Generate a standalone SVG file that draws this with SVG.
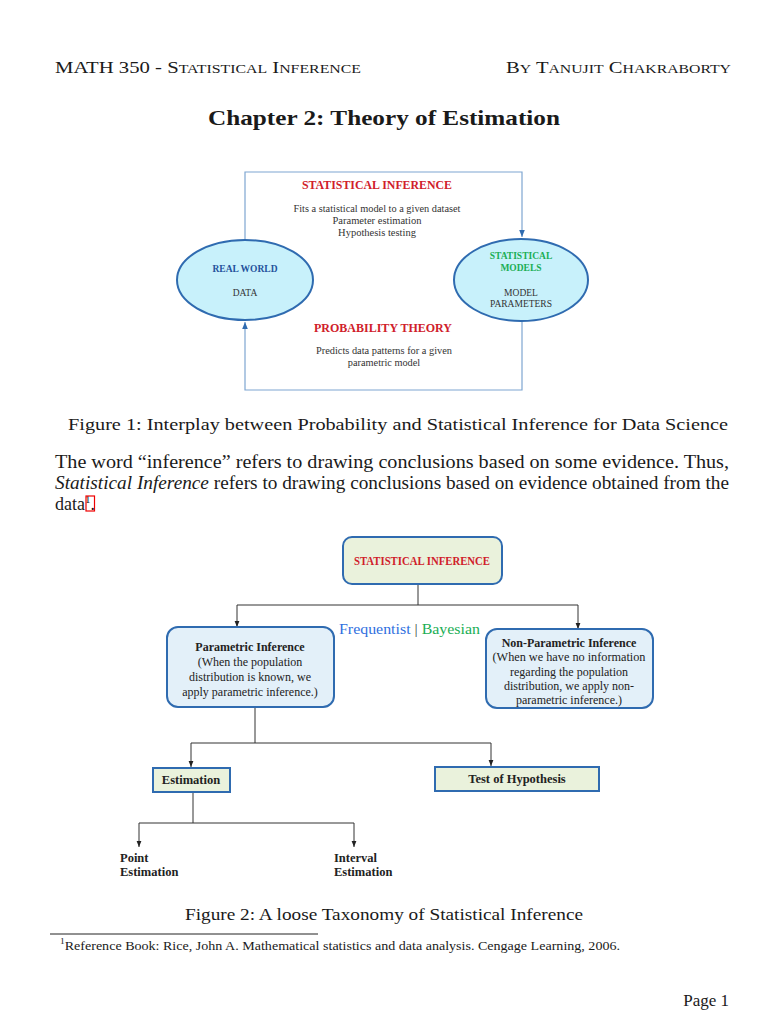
<svg xmlns="http://www.w3.org/2000/svg" width="768" height="1024" viewBox="0 0 768 1024">
<defs>
<style>
.pg{font-family:"Liberation Serif","DejaVu Serif",serif;fill:#1a1a1a}
.fg{font-family:"Liberation Serif","DejaVu Serif",serif}
.b{font-weight:bold}
.red{fill:#d0202a}
.frame{fill:none;stroke:#7ea6d1;stroke-width:1.2}
.ell{fill:#c8f1fb;stroke:#2f6bb0;stroke-width:2}
.conn{fill:none;stroke:#333;stroke-width:1}
.boxg{fill:#eaf2dc;stroke:#2f6bb0;stroke-width:2}
.boxb{fill:#e3f0f9;stroke:#2f6bb0;stroke-width:2}
</style>
<marker id="ab" viewBox="0 0 10 10" refX="10" refY="5" markerWidth="6" markerHeight="6" orient="auto"><path d="M0,1 L10,5 L0,9 z" fill="#2f6bb0"/></marker>
<marker id="ak" viewBox="0 0 10 10" refX="10" refY="5" markerWidth="6" markerHeight="6" orient="auto"><path d="M0,1 L10,5 L0,9 z" fill="#222"/></marker>
</defs>
<rect width="768" height="1024" fill="#fff"/>

<!-- page text -->
<text class="pg" x="55" y="73" font-size="17" textLength="306" lengthAdjust="spacingAndGlyphs">MATH 350 - S<tspan font-size="13">TATISTICAL</tspan> I<tspan font-size="13">NFERENCE</tspan></text>
<text class="pg" x="731" y="73" font-size="17" text-anchor="end" textLength="225" lengthAdjust="spacingAndGlyphs">B<tspan font-size="13">Y</tspan> T<tspan font-size="13">ANUJIT</tspan> C<tspan font-size="13">HAKRABORTY</tspan></text>
<text class="pg b" x="384" y="125" font-size="21" text-anchor="middle" textLength="352" lengthAdjust="spacingAndGlyphs">Chapter 2: Theory of Estimation</text>

<!-- Figure 1 -->
<g id="fig1-connectors">
<path class="frame" d="M245,239 V172 H522 V237" marker-end="url(#ab)"/>
<path class="frame" d="M522,321 V390 H245 V322" marker-end="url(#ab)"/>
</g>
<g id="fig1-statinf">
<text class="fg b red" x="377" y="189" font-size="12" text-anchor="middle" textLength="150" lengthAdjust="spacingAndGlyphs">STATISTICAL INFERENCE</text>
<text class="fg" x="377" y="212" font-size="10.5" text-anchor="middle" fill="#333" textLength="167" lengthAdjust="spacingAndGlyphs">Fits a statistical model to a given dataset</text>
<text class="fg" x="377" y="224" font-size="10.5" text-anchor="middle" fill="#333">Parameter estimation</text>
<text class="fg" x="377" y="236" font-size="10.5" text-anchor="middle" fill="#333">Hypothesis testing</text>
</g>
<g id="fig1-realworld">
<ellipse class="ell" cx="245" cy="280" rx="68" ry="40"/>
<text class="fg b" x="245" y="272" font-size="9.5" text-anchor="middle" fill="#24519c">REAL WORLD</text>
<text class="fg" x="245" y="296" font-size="9.5" text-anchor="middle" fill="#333">DATA</text>
</g>
<g id="fig1-models">
<ellipse class="ell" cx="521" cy="280" rx="67" ry="41"/>
<text class="fg b" x="521" y="259" font-size="9.5" text-anchor="middle" fill="#1aae55">STATISTICAL</text>
<text class="fg b" x="521" y="271" font-size="9.5" text-anchor="middle" fill="#1aae55">MODELS</text>
<text class="fg" x="521" y="296" font-size="9.5" text-anchor="middle" fill="#333">MODEL</text>
<text class="fg" x="521" y="307" font-size="9.5" text-anchor="middle" fill="#333">PARAMETERS</text>
</g>
<g id="fig1-prob">
<text class="fg b red" x="383" y="332" font-size="12.5" text-anchor="middle" textLength="138" lengthAdjust="spacingAndGlyphs">PROBABILITY THEORY</text>
<text class="fg" x="384" y="354" font-size="10.3" text-anchor="middle" fill="#333" textLength="136" lengthAdjust="spacingAndGlyphs">Predicts data patterns for a given</text>
<text class="fg" x="384" y="366" font-size="10.3" text-anchor="middle" fill="#333">parametric model</text>
</g>

<text class="pg" x="68" y="430" font-size="17" textLength="660" lengthAdjust="spacingAndGlyphs">Figure 1: Interplay between Probability and Statistical Inference for Data Science</text>
<text class="pg" x="55" y="468" font-size="18" textLength="674" lengthAdjust="spacingAndGlyphs">The word “inference” refers to drawing conclusions based on some evidence.  Thus,</text>
<text class="pg" x="55" y="489" font-size="18" textLength="674" lengthAdjust="spacingAndGlyphs"><tspan font-style="italic">Statistical Inference</tspan> refers to drawing conclusions based on evidence obtained from the</text>
<text class="pg" x="55" y="510" font-size="18">data<tspan font-size="11" dy="-7">1</tspan><tspan dy="7">.</tspan></text>
<rect x="86" y="496" width="8.5" height="15" fill="none" stroke="#e00" stroke-width="1.2"/>

<!-- Figure 2 -->
<g id="fig2-connectors">
<path class="conn" d="M418,584 V605"/>
<path class="conn" d="M237,605 H578"/>
<path class="conn" d="M237,605 V627" marker-end="url(#ak)"/>
<path class="conn" d="M578,605 V629" marker-end="url(#ak)"/>
<path class="conn" d="M255,708 V743"/>
<path class="conn" d="M191,743 H491"/>
<path class="conn" d="M191,743 V767" marker-end="url(#ak)"/>
<path class="conn" d="M491,743 V766" marker-end="url(#ak)"/>
<path class="conn" d="M193,792 V823" stroke="#777"/>
<path class="conn" d="M139,823 H354" stroke="#777"/>
<path class="conn" d="M139,823 V847" marker-end="url(#ak)"/>
<path class="conn" d="M354,823 V847" marker-end="url(#ak)"/>
</g>
<g id="fig2-root">
<rect class="boxg" x="343" y="537" width="159" height="47" rx="9"/>
<text class="fg b red" x="422" y="565" font-size="11.5" text-anchor="middle" textLength="136" lengthAdjust="spacingAndGlyphs">STATISTICAL INFERENCE</text>
</g>
<g id="fig2-label">
<text class="fg" x="339" y="634" font-size="15.5" textLength="141" lengthAdjust="spacingAndGlyphs"><tspan fill="#2f6fe0">Frequentist</tspan><tspan fill="#444"> | </tspan><tspan fill="#1aae55">Bayesian</tspan></text>
</g>
<g id="fig2-param">
<rect class="boxb" x="167" y="627" width="167" height="80" rx="11"/>
<text class="fg b" x="250" y="651" font-size="12" text-anchor="middle" fill="#222">Parametric Inference</text>
<text class="fg" x="250" y="666" font-size="12" text-anchor="middle" fill="#222">(When the population</text>
<text class="fg" x="250" y="681" font-size="12" text-anchor="middle" fill="#222">distribution is known, we</text>
<text class="fg" x="250" y="696" font-size="12" text-anchor="middle" fill="#222">apply parametric inference.)</text>
</g>
<g id="fig2-nonparam">
<rect class="boxb" x="486" y="629" width="167" height="79" rx="11"/>
<text class="fg b" x="569" y="647" font-size="12" text-anchor="middle" fill="#222">Non-Parametric Inference</text>
<text class="fg" x="569" y="661" font-size="12" text-anchor="middle" fill="#222" textLength="153" lengthAdjust="spacingAndGlyphs">(When we have no information</text>
<text class="fg" x="569" y="676" font-size="12" text-anchor="middle" fill="#222">regarding the population</text>
<text class="fg" x="569" y="690" font-size="12" text-anchor="middle" fill="#222">distribution, we apply non-</text>
<text class="fg" x="569" y="704" font-size="12" text-anchor="middle" fill="#222">parametric inference.)</text>
</g>
<g id="fig2-estimation">
<rect class="boxg" x="153" y="768" width="77" height="24"/>
<text class="fg b" x="191" y="784" font-size="12.5" text-anchor="middle" fill="#222">Estimation</text>
</g>
<g id="fig2-test">
<rect class="boxg" x="435" y="767" width="164" height="24"/>
<text class="fg b" x="517" y="783" font-size="12.5" text-anchor="middle" fill="#222">Test of Hypothesis</text>
</g>
<g id="fig2-point">
<text class="fg b" x="120" y="862" font-size="12.5" fill="#222">Point</text>
<text class="fg b" x="120" y="876" font-size="12.5" fill="#222">Estimation</text>
</g>
<g id="fig2-interval">
<text class="fg b" x="334" y="862" font-size="12.5" fill="#222">Interval</text>
<text class="fg b" x="334" y="876" font-size="12.5" fill="#222">Estimation</text>
</g>

<text class="pg" x="384" y="920" font-size="17" text-anchor="middle" textLength="398" lengthAdjust="spacingAndGlyphs">Figure 2: A loose Taxonomy of Statistical Inference</text>
<line x1="50" y1="934" x2="318" y2="934" stroke="#222" stroke-width="1"/>
<text class="pg" x="60" y="950" font-size="12" textLength="560" lengthAdjust="spacingAndGlyphs"><tspan font-size="8" dy="-6">1</tspan><tspan dy="6">Reference Book: Rice, John A. Mathematical statistics and data analysis. Cengage Learning, 2006.</tspan></text>
<text class="pg" x="729" y="1006" font-size="17" text-anchor="end">Page 1</text>
</svg>
